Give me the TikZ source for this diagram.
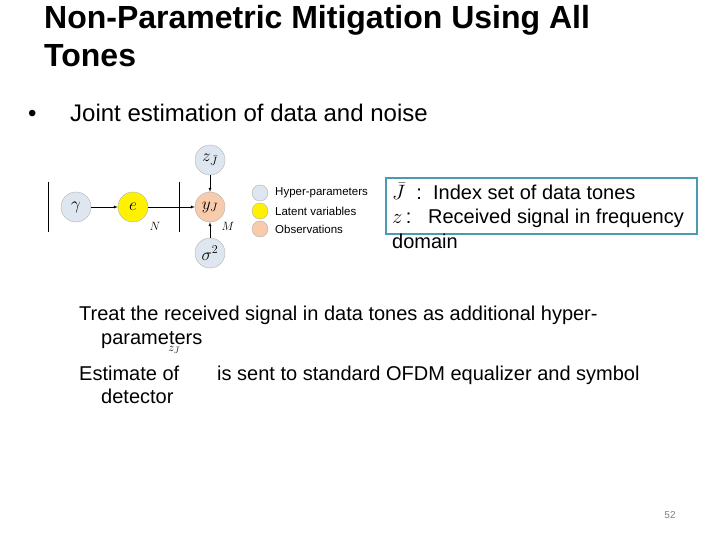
\documentclass[tikz,border=0pt]{standalone}
\usepackage{fontspec}
\setmainfont{Liberation Sans}
\begin{document}
\begin{tikzpicture}[x=1pt,y=-1pt,
  hyp/.style={circle,draw=gray!60,fill={rgb,255:red,222;green,230;blue,240},minimum size=30pt,inner sep=0pt},
  lat/.style={hyp,fill={rgb,255:red,255;green,242;blue,0}},
  obs/.style={hyp,fill={rgb,255:red,248;green,203;blue,173}},
  leg/.style={circle,draw=gray!60,minimum size=16pt,inner sep=0pt},
  legt/.style={anchor=west,font=\fontsize{11.5}{13}\selectfont,inner sep=0pt},
  body/.style={anchor=base west,inner sep=0pt,font=\fontsize{24}{28}\selectfont},
  txt/.style={anchor=base west,inner sep=0pt,font=\fontsize{20}{24}\selectfont},
  arr/.style={-latex,thin}]
\useasboundingbox (0,0) rectangle (720,540);
\node[anchor=base west,inner sep=0pt,font=\bfseries\fontsize{32}{36}\selectfont] (t1) at (44,29) {Non-Parametric Mitigation Using All};
\node[anchor=base west,inner sep=0pt,font=\bfseries\fontsize{32}{36}\selectfont] (t2) at (44,67) {Tones};
\node[body] (b0) at (28,122) {•};
\node[body] (b1) at (70,122) {Joint estimation of data and noise};
% graph
\draw (48,182) -- (48,232);
\draw (179,182) -- (179,232);
\node[hyp] (g) at (76,207) {\LARGE $\gamma$};
\node[lat] (e) at (133,207) {\LARGE $e$};
\node[obs] (y) at (210,207) {\LARGE $y_J$};
\node[hyp] (z) at (210,160) {\LARGE $z_{\bar J}$};
\node[hyp] (s) at (210,253) {\LARGE $\sigma^2$};
\node (N) at (155,226) {\large $N$};
\node (M) at (228,226) {\large $M$};
\draw[arr] (g) -- (e);
\draw[arr] (e) -- (y);
\draw[arr] (z) -- (y);
\draw[arr] (s) -- (y);
\node[leg,fill={rgb,255:red,222;green,230;blue,240}] (l1) at (260,193) {};
\node[leg,fill={rgb,255:red,255;green,242;blue,0}] (l2) at (260,211) {};
\node[leg,fill={rgb,255:red,248;green,203;blue,173}] (l3) at (260,229) {};
\node[legt] (lt1) at (275,193) {Hyper-parameters};
\node[legt] (lt2) at (275,211) {Latent variables};
\node[legt] (lt3) at (275,229) {Observations};
% box
\draw[draw={rgb,255:red,74;green,155;blue,175},line width=2pt] (386,178) rectangle (697,234);
\node[txt] (k1) at (392,200) {$\bar J$\ \ :\ \ Index set of data tones};
\node[txt] (k2) at (392,224) {$z$\,:\ \ \ Received signal in frequency};
\node[txt] (k3) at (392,248) {domain};
% lower text
\node[txt] (c1) at (79,320) {Treat the received signal in data tones as additional hyper-};
\node[txt] (c2) at (101,344) {parameters};
\node[inner sep=0pt] (zz) at (174,350) {\large $z_{\bar J}$};
\node[txt] (c3) at (79,380) {Estimate of};
\node[txt] (c4) at (217,380) {is sent to standard OFDM equalizer and symbol};
\node[txt] (c5) at (101,403) {detector};
\node[font=\fontsize{10}{12}\selectfont,text=gray] (pn) at (670,515) {52};
\end{tikzpicture}
\end{document}
